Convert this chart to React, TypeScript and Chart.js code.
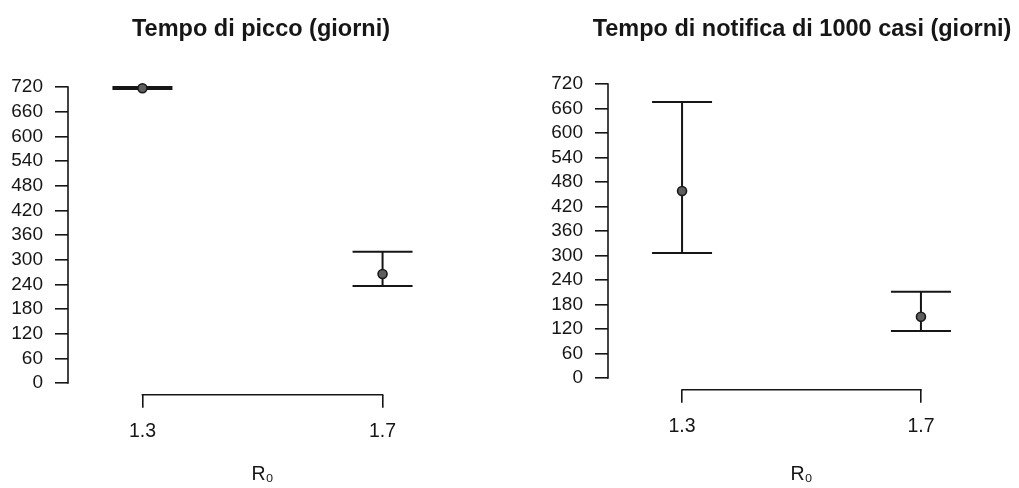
import React, { useEffect, useRef } from "react";
import { Chart, registerables } from "chart.js";

Chart.register(...registerables);

// ---- data ----
const r0Values = [1.3, 1.7];
const xTickLabels = ["1.3", "1.7"];
const yTickValues = [0, 60, 120, 180, 240, 300, 360, 420, 480, 540, 600, 660, 720];

const peakTitle = "Tempo di picco (giorni)";
const peakMean = [717, 265];
const peakLow = [715, 236];
const peakHigh = [720, 319];

const notifTitle = "Tempo di notifica di 1000 casi (giorni)";
const notifMean = [458, 150];
const notifLow = [306, 115];
const notifHigh = [676, 211];

const xAxisTitle = "R₀";

// ---- style ----
const FONT = "'Liberation Sans', Arial, 'DejaVu Sans', sans-serif";
const INK = "#161616";
const H = 488;

const errorBarsPlugin = {
  id: "errorBars",
  beforeDatasetsDraw(chart: any, _args: any, opts: any) {
    const { ctx, scales } = chart;
    const xs = scales.x;
    const ys = scales.y;
    if (!opts || !opts.low) return;
    ctx.save();
    ctx.strokeStyle = INK;
    ctx.lineWidth = 2;
    ctx.lineCap = "butt";
    for (let i = 0; i < r0Values.length; i++) {
      const px = xs.getPixelForValue(r0Values[i]);
      const pl = ys.getPixelForValue(opts.low[i]);
      const ph = ys.getPixelForValue(opts.high[i]);
      const hw = 30;
      ctx.beginPath();
      ctx.moveTo(px, pl);
      ctx.lineTo(px, ph);
      ctx.moveTo(px - hw, pl);
      ctx.lineTo(px + hw, pl);
      ctx.moveTo(px - hw, ph);
      ctx.lineTo(px + hw, ph);
      ctx.stroke();
    }
    ctx.restore();
  },
};

const rAxesPlugin = {
  id: "rAxes",
  afterDraw(chart: any) {
    const { ctx, scales, chartArea } = chart;
    const xs = scales.x;
    const ys = scales.y;
    ctx.save();
    ctx.strokeStyle = INK;
    ctx.lineWidth = 1.6;
    ctx.beginPath();
    const y0 = ys.getPixelForValue(yTickValues[0]);
    const y1 = ys.getPixelForValue(yTickValues[yTickValues.length - 1]);
    ctx.moveTo(chartArea.left, y0 + 0.8);
    ctx.lineTo(chartArea.left, y1 - 0.8);
    const x0 = xs.getPixelForValue(r0Values[0]);
    const x1 = xs.getPixelForValue(r0Values[r0Values.length - 1]);
    ctx.moveTo(x0 - 0.8, chartArea.bottom);
    ctx.lineTo(x1 + 0.8, chartArea.bottom);
    ctx.stroke();
    ctx.restore();
  },
};

type Area = { left: number; right: number; top: number; bottom: number };

function Panel(props: {
  title: string;
  mean: number[];
  low: number[];
  high: number[];
  x: number;
  width: number;
  area: Area;
}) {
  const ref = useRef<HTMLCanvasElement | null>(null);
  const { title, mean, low, high, width, area } = props;

  useEffect(() => {
    if (!ref.current) return;
    const tickFont = { family: FONT, size: 19 };
    const titleSize = 23.5;
    const titleLH = titleSize * 1.2;
    const titlePadTop = 15.2;
    const chart = new Chart(ref.current, {
      type: "scatter",
      data: {
        datasets: [
          {
            data: r0Values.map((x, i) => ({ x, y: mean[i] })),
            pointRadius: 4.5,
            pointHoverRadius: 4.5,
            pointBackgroundColor: "#5e5e5e",
            pointBorderColor: "#1a1a1a",
            pointBorderWidth: 1.6,
            showLine: false,
          },
        ],
      },
      options: {
        animation: false,
        responsive: false,
        devicePixelRatio: 1,
        events: [],
        layout: { padding: 0 },
        plugins: {
          legend: { display: false },
          tooltip: { enabled: false },
          title: {
            display: true,
            text: title,
            fullSize: true,
            color: INK,
            font: { family: FONT, size: titleSize, weight: "bold" },
            padding: { top: titlePadTop, bottom: area.top - titlePadTop - titleLH },
          },
          errorBars: { low, high },
        } as any,
        scales: {
          x: {
            type: "linear",
            min: 1.176,
            max: 1.824,
            afterFit: (s: any) => {
              s.height = H - area.bottom;
            },
            afterBuildTicks: (a: any) => {
              a.ticks = r0Values.map((v) => ({ value: v }));
            },
            ticks: {
              callback: (_v: any, i: number) => xTickLabels[i],
              font: { ...tickFont, size: 19.5 },
              color: INK,
              padding: 12,
              maxRotation: 0,
              autoSkip: false,
            },
            grid: { drawOnChartArea: false, drawTicks: true, tickLength: 13, color: INK, lineWidth: 1.6 },
            border: { display: false },
            title: {
              display: true,
              text: xAxisTitle,
              color: INK,
              font: { family: FONT, size: 19.5 },
              padding: { top: 0, bottom: 2 },
            },
          },
          y: {
            type: "linear",
            min: -28.8,
            max: 748.8,
            afterFit: (s: any) => {
              s.width = area.left;
            },
            afterBuildTicks: (a: any) => {
              a.ticks = yTickValues.map((v) => ({ value: v }));
            },
            ticks: {
              callback: (v: any) => String(v),
              font: tickFont,
              color: INK,
              padding: 12,
              autoSkip: false,
            },
            grid: { drawOnChartArea: false, drawTicks: true, tickLength: 13, color: INK, lineWidth: 1.6 },
            border: { display: false },
          },
          // empty right-hand margin box (keeps plot width while centring the wide title)
          margin: {
            type: "linear",
            position: "right",
            display: true,
            min: 0,
            max: 1,
            afterFit: (s: any) => {
              s.width = width - area.right;
            },
            ticks: { display: false },
            grid: { display: false },
            border: { display: false },
          },
        },
      } as any,
      plugins: [errorBarsPlugin, rAxesPlugin],
    });
    return () => chart.destroy();
  }, []);

  return (
    <canvas
      ref={ref}
      width={width}
      height={H}
      style={{ position: "absolute", left: props.x, top: 0, width, height: H, display: "block" }}
    />
  );
}

export default function App() {
  return (
    <div
      style={{
        position: "fixed",
        left: 0,
        top: 0,
        width: 1019,
        height: H,
        background: "#fff",
        overflow: "hidden",
      }}
    >
      <Panel
        title={peakTitle}
        mean={peakMean}
        low={peakLow}
        high={peakHigh}
        x={0}
        width={522}
        area={{ left: 68, right: 457, top: 75.2, bottom: 394.8 }}
      />
      <Panel
        title={notifTitle}
        mean={notifMean}
        low={notifLow}
        high={notifHigh}
        x={509}
        width={586}
        area={{ left: 99, right: 486, top: 72.2, bottom: 389.8 }}
      />
    </div>
  );
}
